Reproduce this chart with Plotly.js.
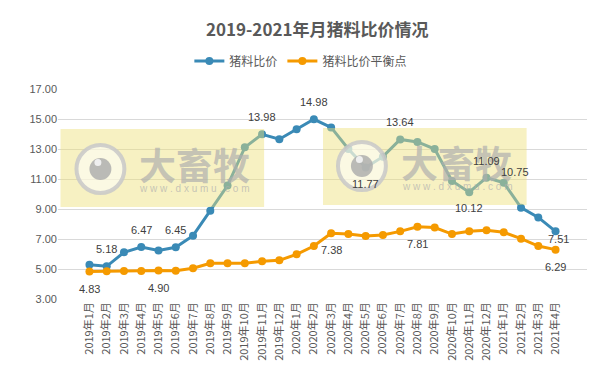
<!DOCTYPE html>
<html><head><meta charset="utf-8">
<script src="https://cdn.plot.ly/plotly-3.0.1.min.js"></script>
<style>html,body{margin:0;padding:0;background:#fff}#chart{width:614px;height:374px}</style>
</head><body><div id="chart"></div>
<script>
const months = ["2019年1月","2019年2月","2019年3月","2019年4月","2019年5月","2019年6月","2019年7月","2019年8月","2019年9月","2019年10月","2019年11月","2019年12月",
"2020年1月","2020年2月","2020年3月","2020年4月","2020年5月","2020年6月","2020年7月","2020年8月","2020年9月","2020年10月","2020年11月","2020年12月",
"2021年1月","2021年2月","2021年3月","2021年4月"];
const ratio = [5.28,5.18,6.11,6.47,6.24,6.45,7.22,8.89,10.56,13.11,13.98,13.65,14.31,14.98,14.44,13.00,11.77,12.49,13.64,13.47,13.00,10.87,10.12,11.09,10.75,9.09,8.44,7.51];
const breakeven = [4.83,4.85,4.86,4.87,4.90,4.88,5.05,5.38,5.38,5.38,5.51,5.58,5.98,6.53,7.38,7.33,7.20,7.27,7.51,7.81,7.76,7.33,7.51,7.58,7.45,7.02,6.53,6.29];
const ratioLabelIdx = [1,3,5,10,13,16,18,22,23,24,27];
const beLabelIdx = [0,4,14,19,27];

// label placement (styling)
const ratioOffsets = {16:[0,-17],22:[0,-16],24:[11,11],27:[3,-8]};
const defaultUp = [0,17], defaultDown = [0,-17];

const blue = "#3A8AB6", orange = "#F59A00";
const baseFont = "Liberation Sans, Noto Sans CJK SC, sans-serif";
const cjkFont = "Noto Sans CJK SC, sans-serif";
const labelFont = {size: 11, color: "#404040", family: baseFont};

const traces = [
 {x: months, y: ratio, name: "猪料比价", type: "scatter", mode: "lines+markers",
  line: {color: blue, width: 3}, marker: {color: blue, size: 8}},
 {x: months, y: breakeven, name: "猪料比价平衡点", type: "scatter", mode: "lines+markers",
  line: {color: orange, width: 3}, marker: {color: orange, size: 8}}
];

const P = {l:57.5, t:89, w:530, h:210};
const px = x => (x - P.l)/P.w, py = y => (P.t + P.h - y)/P.h;

const shapes = [
 {type:"rect",xref:"paper",yref:"paper",x0:px(60),x1:px(264),y0:py(207),y1:py(129),fillcolor:"rgba(238,224,120,0.45)",line:{width:0},layer:"above"},
 {type:"rect",xref:"paper",yref:"paper",x0:px(323),x1:px(527),y0:py(205),y1:py(128),fillcolor:"rgba(238,224,120,0.45)",line:{width:0},layer:"above"}
];
function logo(cx, cy){
  shapes.push({type:"circle",xref:"paper",yref:"paper",x0:px(cx-24),x1:px(cx+24),y0:py(cy+24),y1:py(cy-24),fillcolor:"rgba(255,255,255,0.55)",line:{color:"rgba(200,200,200,0.85)",width:4},layer:"above"});
  shapes.push({type:"circle",xref:"paper",yref:"paper",x0:px(cx-11),x1:px(cx+11),y0:py(cy+11),y1:py(cy-11),fillcolor:"rgba(170,170,170,0.8)",line:{width:0},layer:"above"});
  shapes.push({type:"circle",xref:"paper",yref:"paper",x0:px(cx-6),x1:px(cx+1),y0:py(cy-3),y1:py(cy-10),fillcolor:"rgba(245,245,245,0.9)",line:{width:0},layer:"above"});
}
logo(100,169); logo(362,166);

const wmText = "rgba(175,175,175,0.7)";
const annotations = [
 {xref:"paper",yref:"paper",x:px(194),y:py(164),xanchor:"center",yanchor:"middle",text:"大畜牧",showarrow:false,font:{family:cjkFont,size:37,color:wmText,weight:"bold"}},
 {xref:"paper",yref:"paper",x:px(194),y:py(188),xanchor:"center",yanchor:"middle",text:"w w w . d x u m u . c o m",showarrow:false,font:{family:baseFont,size:10,color:wmText}},
 {xref:"paper",yref:"paper",x:px(457),y:py(162),xanchor:"center",yanchor:"middle",text:"大畜牧",showarrow:false,font:{family:cjkFont,size:37,color:wmText,weight:"bold"}},
 {xref:"paper",yref:"paper",x:px(457),y:py(186),xanchor:"center",yanchor:"middle",text:"w w w . d x u m u . c o m",showarrow:false,font:{family:baseFont,size:10,color:wmText}}
];
ratioLabelIdx.forEach(i=>{
  const o = ratioOffsets[i] || defaultUp;
  annotations.push({x: months[i], y: ratio[i], xref:"x", yref:"y", text: ratio[i].toFixed(2), showarrow:false, xshift:o[0], yshift:o[1], font: labelFont});
});
beLabelIdx.forEach(i=>{
  annotations.push({x: months[i], y: breakeven[i], xref:"x", yref:"y", text: breakeven[i].toFixed(2), showarrow:false, xshift:defaultDown[0], yshift:defaultDown[1], font: labelFont});
});

const layout = {
 width: 614, height: 374,
 margin: {l: 57.5, r: 26.5, t: 89, b: 75},
 paper_bgcolor: "#fff", plot_bgcolor: "#fff",
 title: {text: "2019-2021年月猪料比价情况", x: 0.49, xref: "paper", y: 1-30/374, yanchor: "middle",
   font: {family: cjkFont, size: 17, color: "#595959", weight: "bold"}},
 showlegend: true,
 legend: {orientation: "h", x: 0.49, xanchor: "center", xref: "container", y: 1-61/374, yref: "container", yanchor: "middle",
   font: {family: cjkFont, size: 12, color: "#595959"}, itemwidth: 30},
 xaxis: {type: "category", showgrid: false, ticks: "", tickangle: -90, tickfont: {family: cjkFont, size: 11, color: "#595959"},
   showline: false, zeroline: false, fixedrange: true},
 yaxis: {range: [3, 17], dtick: 2, tick0: 3, tickformat: ".2f", showgrid: true, gridcolor: "#d9d9d9", gridwidth: 1,
   zeroline: false, showline: false, ticks: "", tickfont: {family: baseFont, size: 11, color: "#595959"}, fixedrange: true},
 shapes: shapes, annotations: annotations
};
Plotly.newPlot("chart", traces, layout, {displayModeBar: false, staticPlot: true});
</script></body></html>
